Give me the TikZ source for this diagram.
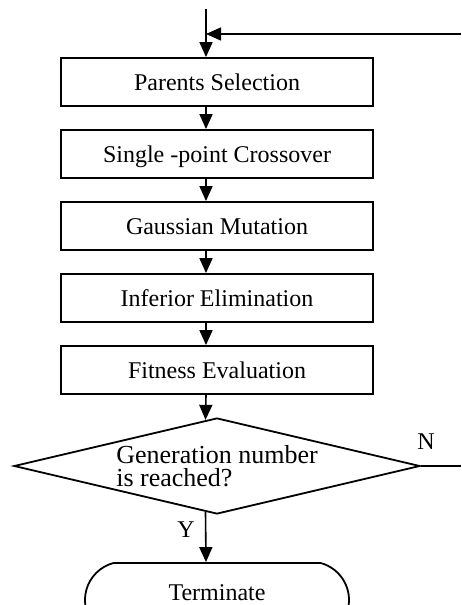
\documentclass[tikz,border=0pt]{standalone}
\usepackage{fontspec}
\setmainfont{Liberation Serif}
\usetikzlibrary{arrows.meta,shapes.geometric,shapes.misc}

\begin{document}
\begin{tikzpicture}[x=.5pt,y=-.5pt,font=\fontsize{12}{14}\selectfont,
    stepbox/.style={draw,line width=.9pt,minimum width=156pt,minimum height=24pt,
      inner sep=0pt,text height=8pt,text depth=0pt},
    flow/.style={line width=.8pt,-{Triangle[length=7.5pt,width=6.5pt]}}]
  \useasboundingbox (0,0) rectangle (461,605);
  \foreach \n/\t [count=\i from 0] in {sel/Parents Selection,
    cro/Single -point Crossover,mut/Gaussian Mutation,
    eli/Inferior Elimination,fit/Fitness Evaluation}
    \node[stepbox] (\n) at (217,82+72*\i) {\t};
  \node[diamond,draw,line width=.9pt,minimum width=203pt,minimum height=48pt,
    inner sep=0pt,label={[align=left,font=\fontsize{13}{11.5}\selectfont]
    center:{Generation number\\is reached?}}] (chk) at (217,466) {};
  \node[rounded rectangle,rounded rectangle arc length=150,draw,line width=.9pt,
    minimum width=132pt,minimum height=37pt,inner sep=0pt,
    label={[yshift=3.5pt]center:Terminate}] (term) at (217,600) {};
  \coordinate (top) at (206,9);
  \coordinate (back) at (461,34);
  \coordinate (nend) at (461,466);
  \node (nlab) at (426,442) {N};
  \node (ylab) at (186,530) {Y};
  \draw[flow] (top) -- ([xshift=-5.5pt]sel.north);
  \draw[flow] (back) -- (back -| top);
  \foreach \a/\b in {sel/cro,cro/mut,mut/eli,eli/fit}
    \draw[flow] ([xshift=-5.5pt]\a.south) -- ([xshift=-5.5pt]\b.north);
  \draw[flow] ([xshift=-5.5pt]fit.south) -- (chk.104);
  \draw[flow] (chk.256) -- ([xshift=-5.5pt]term.north);
  \draw[line width=.8pt] (chk.east) -- (nend);
\end{tikzpicture}
\end{document}
